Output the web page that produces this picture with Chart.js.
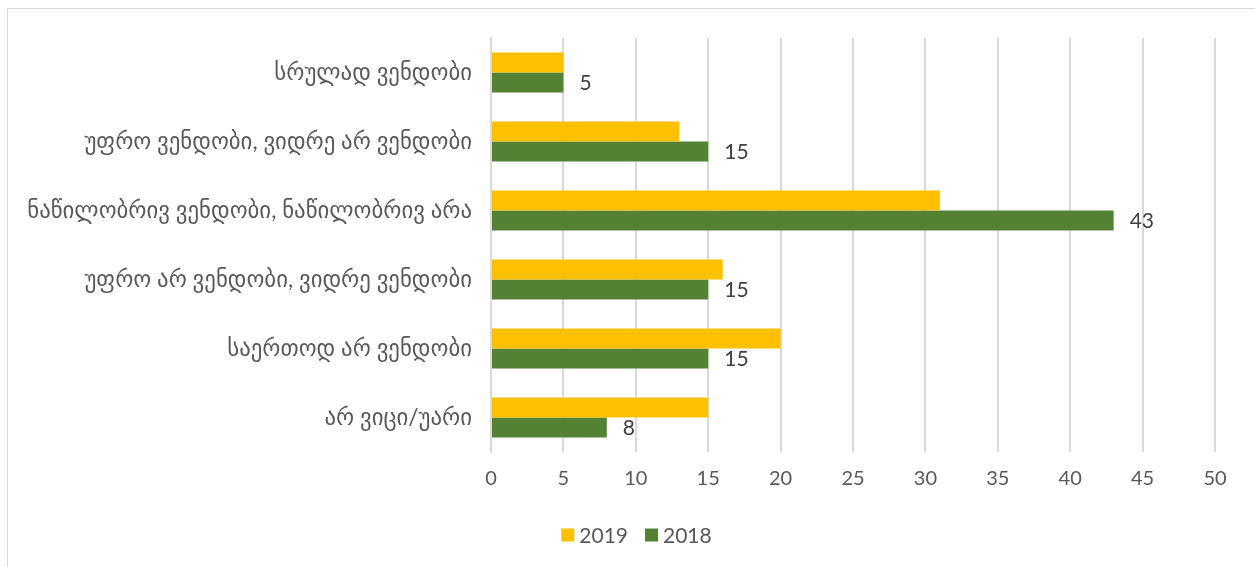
<!DOCTYPE html>
<html>
<head>
<meta charset="utf-8">
<script src="https://cdn.jsdelivr.net/npm/chart.js@4"></script>
<style>
html,body{margin:0;padding:0;background:#fff;}
#wrap{position:relative;width:1255px;height:567px;}
</style>
</head>
<body>
<div id="wrap"><canvas id="c" width="1255" height="567"></canvas></div>
<script>
const categories = [
  "სრულად ვენდობი",
  "უფრო ვენდობი, ვიდრე არ ვენდობი",
  "ნაწილობრივ ვენდობი, ნაწილობრივ არა",
  "უფრო არ ვენდობი, ვიდრე ვენდობი",
  "საერთოდ არ ვენდობი",
  "არ ვიცი/უარი"
];
const values2019 = [5, 13, 31, 16, 20, 15];
const values2018 = [5, 15, 43, 15, 15, 8];
const seriesNames = ["2019", "2018"];
const seriesColors = ["#FFC000", "#548235"];
const xTicks = [0, 5, 10, 15, 20, 25, 30, 35, 40, 45, 50];

const FONT = "Lato, 'DejaVu Sans', sans-serif";

const borderPlugin = {
  id: 'outerBorder',
  beforeDraw(chart) {
    const ctx = chart.ctx;
    ctx.save();
    ctx.fillStyle = '#fff';
    ctx.fillRect(0, 0, chart.width, chart.height);
    ctx.strokeStyle = '#d9d9d9';
    ctx.lineWidth = 1;
    ctx.strokeRect(7.5, 8.5, chart.width + 10, chart.height + 10);
    ctx.restore();
  }
};

const labelPlugin = {
  id: 'valueLabels',
  afterDatasetsDraw(chart) {
    const ctx = chart.ctx;
    const meta = chart.getDatasetMeta(1);
    ctx.save();
    ctx.font = "21px " + FONT;
    ctx.fillStyle = '#404040';
    ctx.textAlign = 'left';
    ctx.textBaseline = 'middle';
    meta.data.forEach((bar, i) => {
      ctx.fillText(String(chart.data.datasets[1].data[i]), bar.x + 16, bar.y + 1);
    });
    ctx.restore();
  }
};

// Legend drawn at the bottom, centred like the reference
const legendPlugin = {
  id: 'bottomLegend',
  afterDraw(chart) {
    const ctx = chart.ctx;
    ctx.save();
    ctx.font = "21px " + FONT;
    ctx.textBaseline = 'middle';
    ctx.textAlign = 'left';
    const box = 13, gap = 5, itemGap = 17;
    const items = chart.data.datasets.map(ds => ({ text: ds.label, color: ds.backgroundColor, w: ctx.measureText(ds.label).width }));
    let total = 0;
    items.forEach((it, i) => { total += box + gap + it.w + (i < items.length - 1 ? itemGap : 0); });
    let x = 636.5 - total / 2;
    const cy = 535;
    items.forEach(it => {
      ctx.fillStyle = it.color;
      ctx.fillRect(x, cy - box / 2, box, box);
      ctx.fillStyle = '#595959';
      ctx.fillText(it.text, x + box + gap, cy + 1);
      x += box + gap + it.w + itemGap;
    });
    ctx.restore();
  }
};

new Chart(document.getElementById('c'), {
  type: 'bar',
  data: {
    labels: categories,
    datasets: [
      { label: seriesNames[0], data: values2019, backgroundColor: seriesColors[0], categoryPercentage: 0.58, barPercentage: 1.0 },
      { label: seriesNames[1], data: values2018, backgroundColor: seriesColors[1], categoryPercentage: 0.58, barPercentage: 1.0 }
    ]
  },
  options: {
    indexAxis: 'y',
    responsive: false,
    animation: false,
    layout: { padding: { top: 38, right: 40, left: 0, bottom: 61 } },
    plugins: {
      legend: { display: false },
      tooltip: { enabled: false }
    },
    scales: {
      x: {
        min: 0, max: 50,
        afterBuildTicks(scale) { scale.ticks = xTicks.map(v => ({ value: v })); },
        afterFit(scale) { scale.height = 54; },
        grid: { color: '#d9d9d9', lineWidth: 2, drawTicks: false },
        border: { display: false },
        ticks: { font: { size: 20, family: FONT }, color: '#595959', padding: 15 }
      },
      y: {
        afterFit(scale) { scale.width = 491; },
        grid: { display: false },
        border: { color: '#d9d9d9', width: 2 },
        ticks: { font: { size: 22.8, family: FONT }, color: '#595959', padding: 11 }
      }
    }
  },
  plugins: [borderPlugin, labelPlugin, legendPlugin]
});
</script>
</body>
</html>
